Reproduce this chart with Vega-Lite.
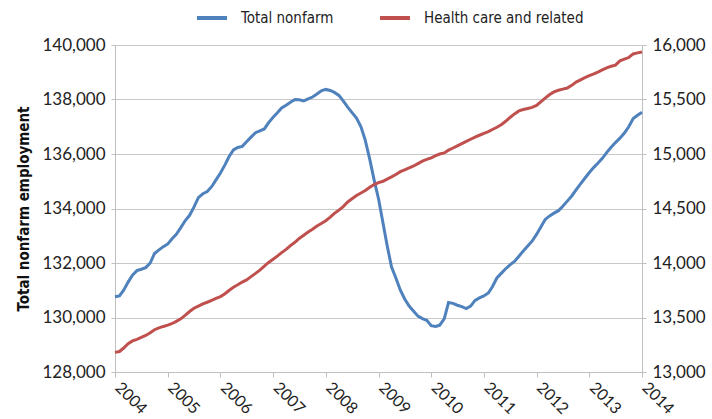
{
 "$schema": "https://vega.github.io/schema/vega-lite/v6.json",
 "width": 527, "height": 327,
 "autosize": {"type": "none"},
 "padding": {"left": 115, "top": 45, "right": 70, "bottom": 47},
 "background": "white",
 "config": {"view": {"stroke": null}, "font": "Lato"},
 "data": {"values": [
{"d":"2004-01-01","nonfarm":130760,"health":13180},{"d":"2004-02-01","nonfarm":130790,"health":13188},{"d":"2004-03-01","nonfarm":131000,"health":13220},{"d":"2004-04-01","nonfarm":131300,"health":13260},{"d":"2004-05-01","nonfarm":131550,"health":13285},{"d":"2004-06-01","nonfarm":131720,"health":13300},{"d":"2004-07-01","nonfarm":131770,"health":13318},{"d":"2004-08-01","nonfarm":131830,"health":13335},{"d":"2004-09-01","nonfarm":132000,"health":13360},{"d":"2004-10-01","nonfarm":132350,"health":13388},{"d":"2004-11-01","nonfarm":132480,"health":13405},{"d":"2004-12-01","nonfarm":132600,"health":13418},
{"d":"2005-01-01","nonfarm":132700,"health":13430},{"d":"2005-02-01","nonfarm":132900,"health":13445},{"d":"2005-03-01","nonfarm":133050,"health":13465},{"d":"2005-04-01","nonfarm":133300,"health":13488},{"d":"2005-05-01","nonfarm":133550,"health":13520},{"d":"2005-06-01","nonfarm":133750,"health":13555},{"d":"2005-07-01","nonfarm":134050,"health":13585},{"d":"2005-08-01","nonfarm":134400,"health":13605},{"d":"2005-09-01","nonfarm":134540,"health":13625},{"d":"2005-10-01","nonfarm":134620,"health":13640},{"d":"2005-11-01","nonfarm":134800,"health":13658},{"d":"2005-12-01","nonfarm":135050,"health":13675},
{"d":"2006-01-01","nonfarm":135300,"health":13692},{"d":"2006-02-01","nonfarm":135600,"health":13718},{"d":"2006-03-01","nonfarm":135900,"health":13748},{"d":"2006-04-01","nonfarm":136150,"health":13778},{"d":"2006-05-01","nonfarm":136240,"health":13800},{"d":"2006-06-01","nonfarm":136280,"health":13825},{"d":"2006-07-01","nonfarm":136450,"health":13845},{"d":"2006-08-01","nonfarm":136620,"health":13875},{"d":"2006-09-01","nonfarm":136780,"health":13905},{"d":"2006-10-01","nonfarm":136850,"health":13935},{"d":"2006-11-01","nonfarm":136920,"health":13972},{"d":"2006-12-01","nonfarm":137150,"health":14005},
{"d":"2007-01-01","nonfarm":137350,"health":14035},{"d":"2007-02-01","nonfarm":137520,"health":14065},{"d":"2007-03-01","nonfarm":137690,"health":14095},{"d":"2007-04-01","nonfarm":137790,"health":14125},{"d":"2007-05-01","nonfarm":137900,"health":14160},{"d":"2007-06-01","nonfarm":138000,"health":14190},{"d":"2007-07-01","nonfarm":137990,"health":14225},{"d":"2007-08-01","nonfarm":137950,"health":14255},{"d":"2007-09-01","nonfarm":138020,"health":14285},{"d":"2007-10-01","nonfarm":138090,"health":14310},{"d":"2007-11-01","nonfarm":138200,"health":14340},{"d":"2007-12-01","nonfarm":138320,"health":14362},
{"d":"2008-01-01","nonfarm":138370,"health":14388},{"d":"2008-02-01","nonfarm":138330,"health":14420},{"d":"2008-03-01","nonfarm":138260,"health":14455},{"d":"2008-04-01","nonfarm":138150,"health":14485},{"d":"2008-05-01","nonfarm":137950,"health":14518},{"d":"2008-06-01","nonfarm":137720,"health":14560},{"d":"2008-07-01","nonfarm":137520,"health":14590},{"d":"2008-08-01","nonfarm":137320,"health":14620},{"d":"2008-09-01","nonfarm":137000,"health":14642},{"d":"2008-10-01","nonfarm":136500,"health":14665},{"d":"2008-11-01","nonfarm":135800,"health":14695},{"d":"2008-12-01","nonfarm":135050,"health":14720},
{"d":"2009-01-01","nonfarm":134350,"health":14738},{"d":"2009-02-01","nonfarm":133460,"health":14750},{"d":"2009-03-01","nonfarm":132650,"health":14770},{"d":"2009-04-01","nonfarm":131850,"health":14790},{"d":"2009-05-01","nonfarm":131450,"health":14812},{"d":"2009-06-01","nonfarm":131000,"health":14838},{"d":"2009-07-01","nonfarm":130680,"health":14855},{"d":"2009-08-01","nonfarm":130420,"health":14872},{"d":"2009-09-01","nonfarm":130230,"health":14890},{"d":"2009-10-01","nonfarm":130050,"health":14912},{"d":"2009-11-01","nonfarm":129960,"health":14935},{"d":"2009-12-01","nonfarm":129900,"health":14950},
{"d":"2010-01-01","nonfarm":129700,"health":14965},{"d":"2010-02-01","nonfarm":129670,"health":14985},{"d":"2010-03-01","nonfarm":129720,"health":15000},{"d":"2010-04-01","nonfarm":129950,"health":15010},{"d":"2010-05-01","nonfarm":130550,"health":15035},{"d":"2010-06-01","nonfarm":130520,"health":15055},{"d":"2010-07-01","nonfarm":130450,"health":15075},{"d":"2010-08-01","nonfarm":130400,"health":15095},{"d":"2010-09-01","nonfarm":130330,"health":15115},{"d":"2010-10-01","nonfarm":130420,"health":15135},{"d":"2010-11-01","nonfarm":130630,"health":15155},{"d":"2010-12-01","nonfarm":130720,"health":15172},
{"d":"2011-01-01","nonfarm":130790,"health":15190},{"d":"2011-02-01","nonfarm":130900,"health":15205},{"d":"2011-03-01","nonfarm":131130,"health":15225},{"d":"2011-04-01","nonfarm":131450,"health":15245},{"d":"2011-05-01","nonfarm":131620,"health":15268},{"d":"2011-06-01","nonfarm":131790,"health":15300},{"d":"2011-07-01","nonfarm":131930,"health":15335},{"d":"2011-08-01","nonfarm":132060,"health":15368},{"d":"2011-09-01","nonfarm":132250,"health":15395},{"d":"2011-10-01","nonfarm":132440,"health":15408},{"d":"2011-11-01","nonfarm":132620,"health":15418},{"d":"2011-12-01","nonfarm":132800,"health":15428},
{"d":"2012-01-01","nonfarm":133050,"health":15445},{"d":"2012-02-01","nonfarm":133330,"health":15480},{"d":"2012-03-01","nonfarm":133600,"health":15512},{"d":"2012-04-01","nonfarm":133730,"health":15545},{"d":"2012-05-01","nonfarm":133830,"health":15570},{"d":"2012-06-01","nonfarm":133920,"health":15585},{"d":"2012-07-01","nonfarm":134080,"health":15595},{"d":"2012-08-01","nonfarm":134270,"health":15605},{"d":"2012-09-01","nonfarm":134460,"health":15630},{"d":"2012-10-01","nonfarm":134680,"health":15660},{"d":"2012-11-01","nonfarm":134900,"health":15680},{"d":"2012-12-01","nonfarm":135110,"health":15700},
{"d":"2013-01-01","nonfarm":135320,"health":15718},{"d":"2013-02-01","nonfarm":135510,"health":15735},{"d":"2013-03-01","nonfarm":135660,"health":15752},{"d":"2013-04-01","nonfarm":135840,"health":15772},{"d":"2013-05-01","nonfarm":136050,"health":15790},{"d":"2013-06-01","nonfarm":136250,"health":15805},{"d":"2013-07-01","nonfarm":136420,"health":15815},{"d":"2013-08-01","nonfarm":136580,"health":15855},{"d":"2013-09-01","nonfarm":136770,"health":15870},{"d":"2013-10-01","nonfarm":137000,"health":15885},{"d":"2013-11-01","nonfarm":137300,"health":15918},{"d":"2013-12-01","nonfarm":137420,"health":15928},
{"d":"2014-01-01","nonfarm":137530,"health":15935}
 ]},
 "encoding": {
  "x": {"field": "d", "type": "temporal",
   "scale": {"type": "utc", "domain": [{"year": 2004, "month": 1, "date": 1, "utc": true}, {"year": 2014, "month": 1, "date": 1, "utc": true}]},
   "axis": {"title": null, "grid": false, "format": "%Y",
    "values": [{"year":2004,"month":1,"date":1,"utc":true},{"year":2005,"month":1,"date":1,"utc":true},{"year":2006,"month":1,"date":1,"utc":true},{"year":2007,"month":1,"date":1,"utc":true},{"year":2008,"month":1,"date":1,"utc":true},{"year":2009,"month":1,"date":1,"utc":true},{"year":2010,"month":1,"date":1,"utc":true},{"year":2011,"month":1,"date":1,"utc":true},{"year":2012,"month":1,"date":1,"utc":true},{"year":2013,"month":1,"date":1,"utc":true},{"year":2014,"month":1,"date":1,"utc":true}],
    "labelAngle": 45, "labelAlign": "left", "labelBaseline": "top", "labelFont": "Lato", "labelFontSize": 16, "labelColor": "#222222",
    "labelPadding": 2, "labelOffset": 8, "labelOverlap": false, "labelBound": false, "labelFlush": false,
    "domainColor": "#BFBFBF", "tickColor": "#BFBFBF", "tickSize": 5}
  }
 },
 "layer": [
  {"mark": {"type": "line", "strokeWidth": 3},
   "encoding": {
    "y": {"field": "nonfarm", "type": "quantitative",
     "scale": {"domain": [128000, 140000], "nice": false, "zero": false},
     "axis": {"values": [128000,130000,132000,134000,136000,138000,140000], "format": ",.0f", "grid": true, "gridColor": "#C8C8C8",
      "domainColor": "#BFBFBF", "tickColor": "#BFBFBF", "tickSize": 4, "labelPadding": 6,
      "labelFont": "Lato", "labelFontSize": 17, "labelColor": "#222222",
      "title": "Total nonfarm employment", "titleFont": "DejaVu Sans Condensed", "titleFontWeight": "bold", "titleFontSize": 15, "titleColor": "#111111", "titlePadding": 10}},
    "color": {"datum": "Total nonfarm", "type": "nominal",
     "scale": {"domain": ["Total nonfarm", "Health care and related"], "range": ["#4F81BD", "#C0504D"]},
     "legend": {"orient": "none", "legendX": 80, "legendY": -44, "direction": "horizontal", "title": null,
      "symbolType": "stroke", "symbolStrokeWidth": 4, "symbolSize": 900,
      "labelFont": "DejaVu Sans Condensed", "labelFontSize": 15, "labelColor": "#222222", "labelOffset": 12, "columnPadding": 38}}
   }},
  {"mark": {"type": "line", "strokeWidth": 3},
   "encoding": {
    "y": {"field": "health", "type": "quantitative",
     "scale": {"domain": [13000, 16000], "nice": false, "zero": false},
     "axis": {"orient": "right", "values": [13000,13500,14000,14500,15000,15500,16000], "format": ",.0f", "grid": false,
      "domainColor": "#BFBFBF", "tickColor": "#BFBFBF", "tickSize": 4, "labelPadding": 6,
      "labelFont": "Lato", "labelFontSize": 17, "labelColor": "#222222", "title": null}},
    "color": {"datum": "Health care and related", "type": "nominal"}
   }}
 ],
 "resolve": {"scale": {"y": "independent"}}
}
